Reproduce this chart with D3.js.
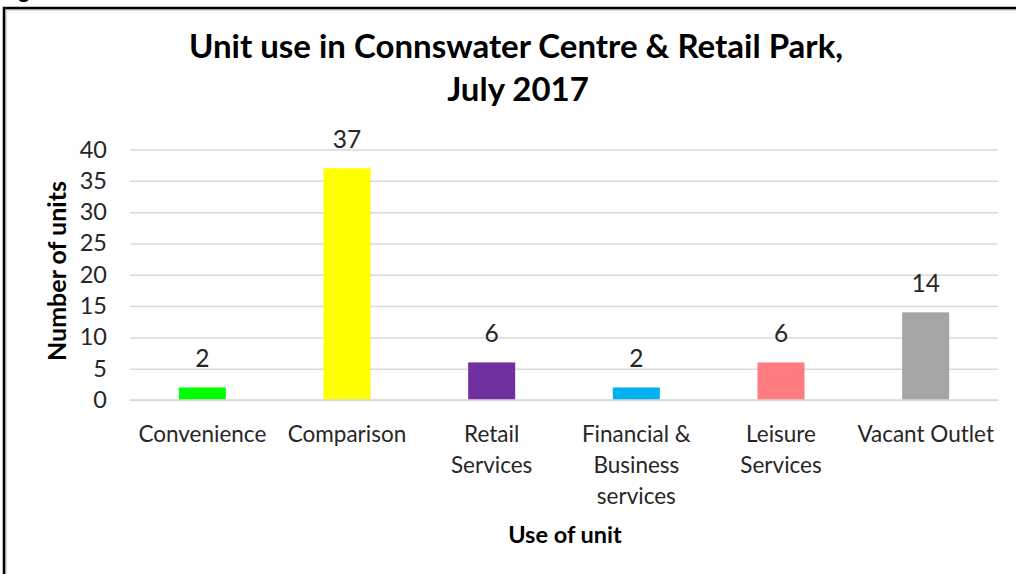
<!DOCTYPE html>
<html>
<head>
<meta charset="utf-8">
<script src="https://cdn.jsdelivr.net/npm/d3@7"></script>
<style>
  body { margin: 0; background: #fff; }
  svg { display: block; font-family: Lato, "Open Sans", sans-serif; }
</style>
</head>
<body>
<svg id="chart" width="1016" height="574"></svg>
<script>
// data
const categories = ["Convenience", "Comparison", "Retail Services", "Financial & Business services", "Leisure Services", "Vacant Outlet"];
const categoryLines = [["Convenience"], ["Comparison"], ["Retail", "Services"], ["Financial &", "Business", "services"], ["Leisure", "Services"], ["Vacant Outlet"]];
const units = [2, 37, 6, 2, 6, 14];
const colors = ["#00FF00", "#FFFF00", "#7030A0", "#00B0F0", "#FF7C80", "#A5A5A5"];
const yTicks = [0, 5, 10, 15, 20, 25, 30, 35, 40];

const svg = d3.select("#chart");
const plotLeft = 130, plotRight = 998, plotTop = 149.5, plotBottom = 400;

// outer frame (caption above is cut off by the crop)
svg.append("text")
  .attr("x", 0).attr("y", -2)
  .attr("font-size", 22).attr("font-weight", "bold")
  .text("Figure");
svg.append("path")
  .attr("d", "M6,1100V10H1100")
  .attr("fill", "none").attr("stroke", "#d9d9d9").attr("stroke-width", 2);
svg.append("path")
  .attr("d", "M4,1100V8H1100")
  .attr("fill", "none").attr("stroke", "#000").attr("stroke-width", 2.5);

const x = d3.scaleBand().domain(categories).range([plotLeft, plotRight]).padding(0);
const y = d3.scaleLinear().domain([0, 40]).range([plotBottom, plotTop]);
const barW = x.bandwidth() * 0.325;

// gridlines + y tick labels
const yAxis = svg.append("g")
  .attr("transform", `translate(${plotLeft},0)`)
  .call(d3.axisLeft(y).tickValues(yTicks).tickSize(-(plotRight - plotLeft)).tickPadding(23));
yAxis.select(".domain").remove();
yAxis.selectAll(".tick line").attr("stroke", "#d9d9d9").attr("stroke-width", 1.5);
yAxis.selectAll(".tick text")
  .attr("font-size", 23.5).attr("fill", "#262626")
  .attr("font-family", "Lato, sans-serif");

// bars
svg.selectAll(".bar")
  .data(categories)
  .enter()
  .append("rect")
  .attr("x", d => x(d) + (x.bandwidth() - barW) / 2)
  .attr("y", (d, i) => y(units[i]))
  .attr("width", barW)
  .attr("height", (d, i) => y(0) - y(units[i]))
  .attr("fill", (d, i) => colors[i]);

// baseline over the bars
svg.append("line")
  .attr("x1", plotLeft).attr("x2", plotRight)
  .attr("y1", y(0)).attr("y2", y(0))
  .attr("stroke", "#d9d9d9").attr("stroke-width", 1.5);

// value labels
svg.selectAll(".val")
  .data(categories)
  .enter()
  .append("text")
  .attr("x", d => x(d) + x.bandwidth() / 2)
  .attr("y", (d, i) => y(units[i]) - 20)
  .attr("text-anchor", "middle")
  .attr("font-size", 24.5).attr("fill", "#262626")
  .text((d, i) => units[i]);

// category labels
const xAxis = svg.append("g")
  .attr("transform", `translate(0,${plotBottom})`)
  .call(d3.axisBottom(x).tickSize(0).tickFormat(""));
xAxis.select(".domain").remove();
xAxis.selectAll(".tick").each(function(d, i) {
  const t = d3.select(this).append("text")
    .attr("text-anchor", "middle")
    .attr("font-size", 22.5).attr("fill", "#262626")
    .attr("font-family", "Lato, sans-serif");
  categoryLines[i].forEach((line, j) => {
    t.append("tspan").attr("x", 0).attr("y", 42 + j * 31).text(line);
  });
});

// titles
const title = svg.append("text")
  .attr("text-anchor", "middle")
  .attr("font-size", 33).attr("font-weight", "bold").attr("fill", "#000");
title.append("tspan").attr("x", 516).attr("y", 58).text("Unit use in Connswater Centre & Retail Park,");
title.append("tspan").attr("x", 518).attr("y", 101).text("July 2017");

svg.append("text")
  .attr("transform", "translate(66,271) rotate(-90)")
  .attr("text-anchor", "middle")
  .attr("font-size", 25).attr("font-weight", "bold")
  .text("Number of units");

svg.append("text")
  .attr("x", 565).attr("y", 543)
  .attr("text-anchor", "middle")
  .attr("font-size", 23.5).attr("font-weight", "bold")
  .text("Use of unit");
</script>
</body>
</html>
